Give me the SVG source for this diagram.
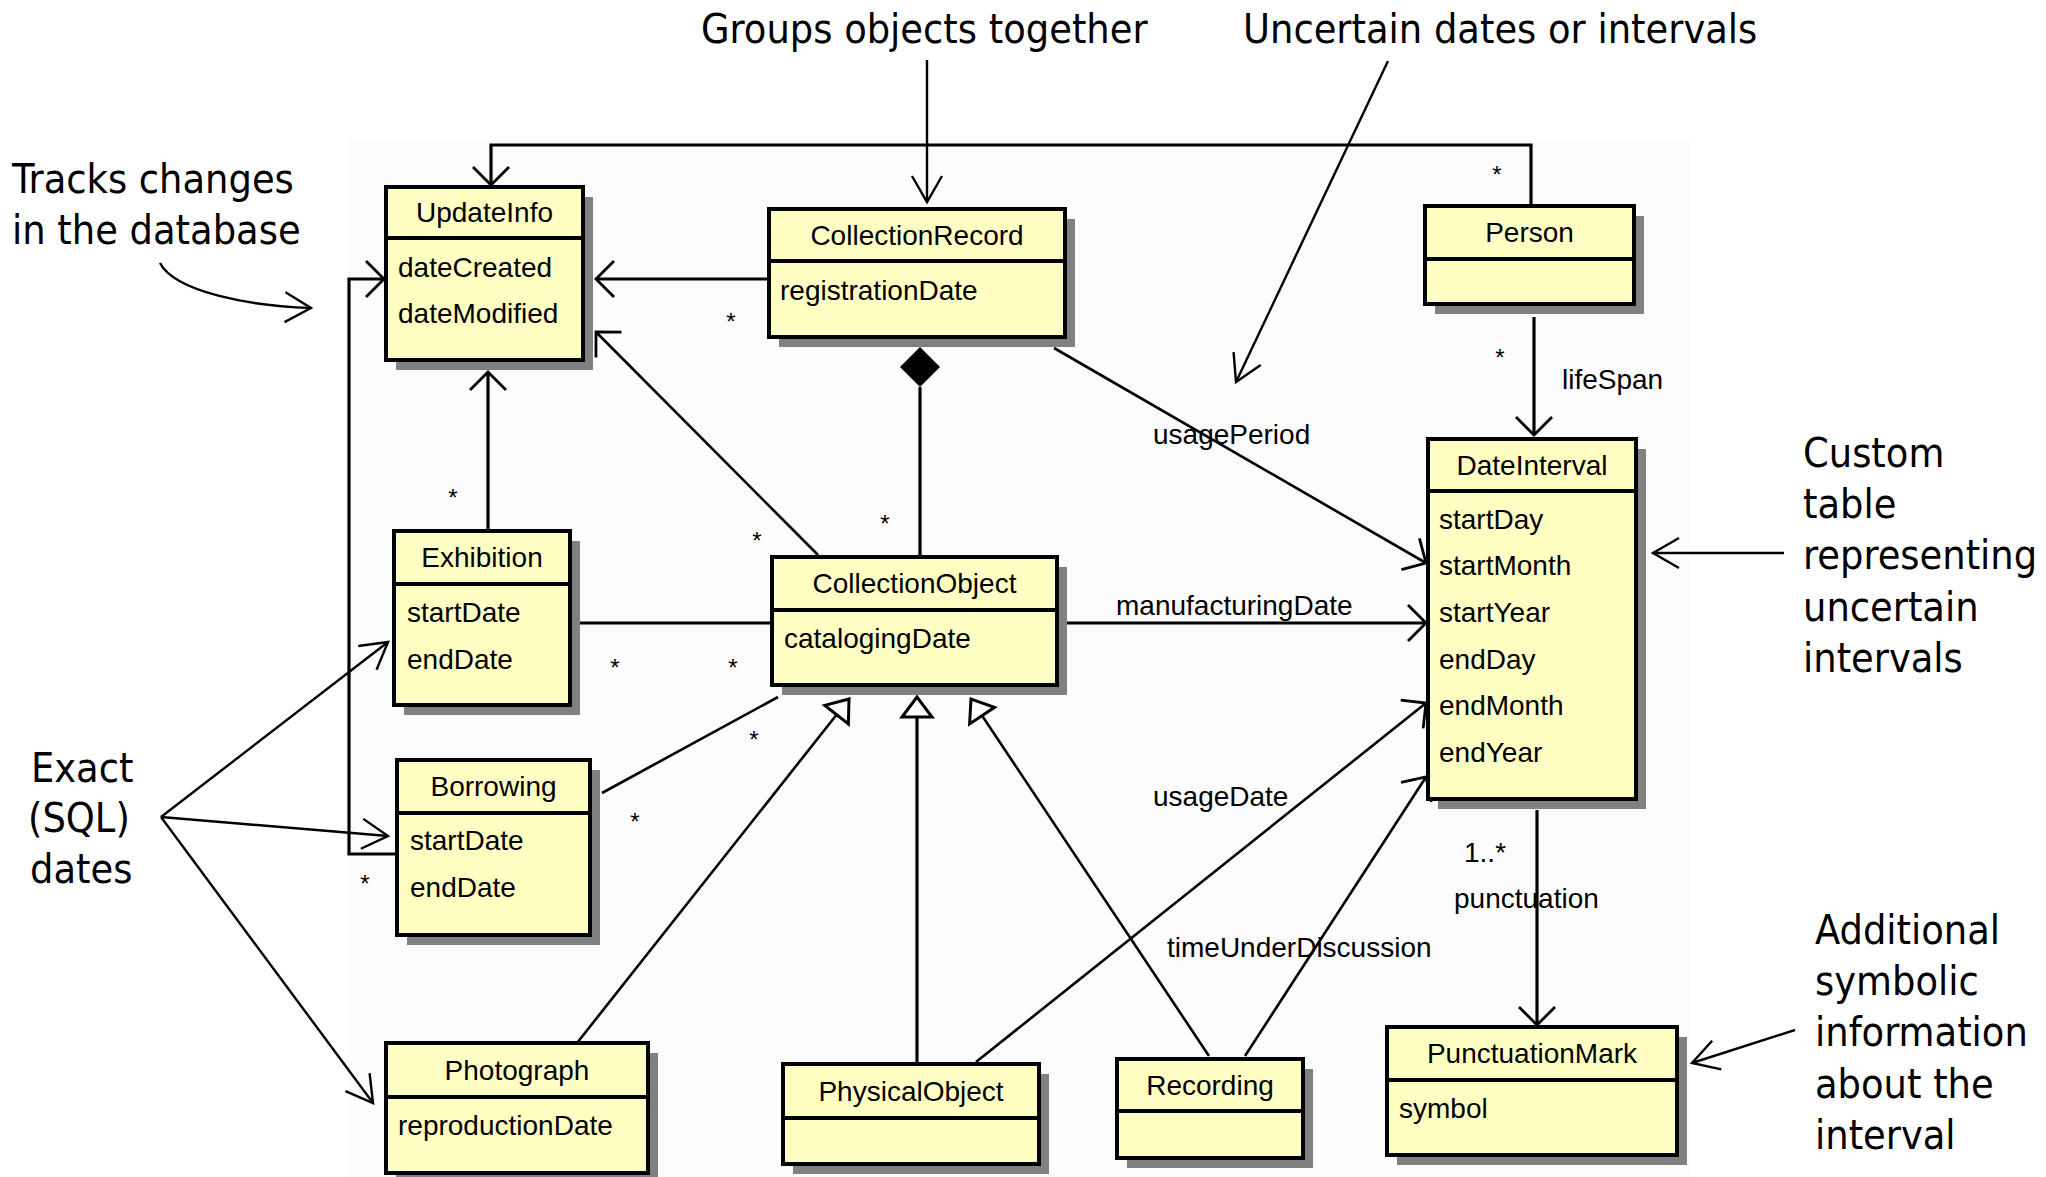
<svg xmlns="http://www.w3.org/2000/svg" width="2046" height="1177" viewBox="0 0 2046 1177">
<style>
.box{fill:#ffffc4;stroke:#000;stroke-width:4}
.sh{fill:#808080}
.dv{stroke:#000;stroke-width:4}
.n{font-family:"Liberation Sans",Arial,sans-serif;font-size:28px;text-anchor:middle;fill:#000}
.a{font-family:"Liberation Sans",Arial,sans-serif;font-size:28px;fill:#000}
.s{font-family:"Liberation Sans",Arial,sans-serif;font-size:24px;text-anchor:middle;fill:#000}
.t{font-family:"DejaVu Sans Condensed","DejaVu Sans",Verdana,sans-serif;font-stretch:condensed;font-size:41px;fill:#000}
.c{fill:none;stroke:#000;stroke-width:3.2}
.c2{fill:none;stroke:#000;stroke-width:2.6}
.an{fill:none;stroke:#000;stroke-width:2.4}
</style>
<defs>
<marker id="open" markerUnits="userSpaceOnUse" viewBox="-22 -22 26 44" markerWidth="26" markerHeight="44" refX="0" refY="0" orient="auto" overflow="visible">
<path d="M-18,-18 L0,0 L-18,18" fill="none" stroke="#000" stroke-width="2.8"/>
</marker>
<marker id="ann" markerUnits="userSpaceOnUse" viewBox="-30 -18 32 36" markerWidth="32" markerHeight="36" refX="0" refY="0" orient="auto" overflow="visible">
<path d="M-26,-15 L0,0 L-26,15" fill="none" stroke="#000" stroke-width="2.4"/>
</marker>
<marker id="gen" markerUnits="userSpaceOnUse" viewBox="-24 -18 26 36" markerWidth="26" markerHeight="36" refX="0" refY="0" orient="auto" overflow="visible">
<path d="M0,0 L-20,-15 L-20,15 Z" fill="#fff" stroke="#000" stroke-width="3"/>
</marker>
</defs>
<rect x="347" y="140" width="1343" height="1037" fill="#fcfcfc"/>

<g id="connectors">
<path class="c" d="M1531,206 V145 H491 V185" marker-end="url(#open)"/>
<path class="c" d="M769,279 H596" marker-end="url(#open)"/>
<path class="c2" d="M818,555 L596,332" marker-end="url(#open)"/>
<path class="c" d="M488,531 V372" marker-end="url(#open)"/>
<path class="c" d="M397,854 H349 V279 H384" marker-end="url(#open)"/>
<path class="c" d="M580,623 H771"/>
<path class="c2" d="M602,793 L778,697"/>
<path d="M920,347 L940,367 L920,387 L900,367 Z" fill="#000"/>
<path class="c" d="M920,387 V557"/>
<path class="c2" d="M1054,348 L1426,563" marker-end="url(#open)"/>
<path class="c" d="M1066,623 H1426" marker-end="url(#open)"/>
<path class="c2" d="M976,1062 L1426,703" marker-end="url(#open)"/>
<path class="c2" d="M1245,1056 L1426,777" marker-end="url(#open)"/>
<path class="c2" d="M577,1043 L849,699" marker-end="url(#gen)"/>
<path class="c" d="M917,1064 V697" marker-end="url(#gen)"/>
<path class="c2" d="M1209,1056 L971,699" marker-end="url(#gen)"/>
<path class="c" d="M1534,317 V435" marker-end="url(#open)"/>
<path class="c" d="M1537,810 V1025" marker-end="url(#open)"/>
<text class="s" x="1497" y="183">*</text>
<text class="s" x="731" y="330">*</text>
<text class="s" x="757" y="549">*</text>
<text class="s" x="453" y="506">*</text>
<text class="s" x="365" y="892">*</text>
<text class="s" x="615" y="676">*</text>
<text class="s" x="733" y="676">*</text>
<text class="s" x="754" y="748">*</text>
<text class="s" x="635" y="830">*</text>
<text class="s" x="885" y="532">*</text>
<text class="s" x="1500" y="366">*</text>
<text class="a" x="1153" y="444">usagePeriod</text>
<text class="a" x="1116" y="615">manufacturingDate</text>
<text class="a" x="1153" y="806">usageDate</text>
<text class="a" x="1167" y="957">timeUnderDiscussion</text>
<text class="a" x="1562" y="389">lifeSpan</text>
<text class="a" x="1464" y="862">1..*</text>
<text class="a" x="1454" y="908">punctuation</text>
</g>

<g id="UpdateInfo">
<rect class="sh" x="396" y="197" width="197" height="173"/>
<rect class="box" x="386" y="187" width="197" height="173"/>
<line class="dv" x1="386" y1="238" x2="583" y2="238"/>
<text class="n" x="484.5" y="222">UpdateInfo</text>
<text class="a" x="398" y="277">dateCreated</text>
<text class="a" x="398" y="323">dateModified</text>
</g>
<g id="CollectionRecord">
<rect class="sh" x="779" y="219" width="296" height="128"/>
<rect class="box" x="769" y="209" width="296" height="128"/>
<line class="dv" x1="769" y1="261" x2="1065" y2="261"/>
<text class="n" x="917" y="245">CollectionRecord</text>
<text class="a" x="780" y="300">registrationDate</text>
</g>
<g id="Person">
<rect class="sh" x="1435" y="216" width="209" height="98"/>
<rect class="box" x="1425" y="206" width="209" height="98"/>
<line class="dv" x1="1425" y1="259" x2="1634" y2="259"/>
<text class="n" x="1529.5" y="242">Person</text>
</g>
<g id="DateInterval">
<rect class="sh" x="1438" y="449" width="208" height="360"/>
<rect class="box" x="1428" y="439" width="208" height="360"/>
<line class="dv" x1="1428" y1="491" x2="1636" y2="491"/>
<text class="n" x="1532" y="475">DateInterval</text>
<text class="a" x="1439" y="529">startDay</text>
<text class="a" x="1439" y="575">startMonth</text>
<text class="a" x="1439" y="622">startYear</text>
<text class="a" x="1439" y="669">endDay</text>
<text class="a" x="1439" y="715">endMonth</text>
<text class="a" x="1439" y="762">endYear</text>
</g>
<g id="Exhibition">
<rect class="sh" x="404" y="541" width="176" height="174"/>
<rect class="box" x="394" y="531" width="176" height="174"/>
<line class="dv" x1="394" y1="584" x2="570" y2="584"/>
<text class="n" x="482" y="567">Exhibition</text>
<text class="a" x="407" y="622">startDate</text>
<text class="a" x="407" y="669">endDate</text>
</g>
<g id="CollectionObject">
<rect class="sh" x="782" y="567" width="285" height="128"/>
<rect class="box" x="772" y="557" width="285" height="128"/>
<line class="dv" x1="772" y1="610" x2="1057" y2="610"/>
<text class="n" x="914.5" y="593">CollectionObject</text>
<text class="a" x="784" y="648">catalogingDate</text>
</g>
<g id="Borrowing">
<rect class="sh" x="407" y="770" width="193" height="175"/>
<rect class="box" x="397" y="760" width="193" height="175"/>
<line class="dv" x1="397" y1="813" x2="590" y2="813"/>
<text class="n" x="493.5" y="796">Borrowing</text>
<text class="a" x="410" y="850">startDate</text>
<text class="a" x="410" y="897">endDate</text>
</g>
<g id="Photograph">
<rect class="sh" x="396" y="1053" width="262" height="130"/>
<rect class="box" x="386" y="1043" width="262" height="130"/>
<line class="dv" x1="386" y1="1097" x2="648" y2="1097"/>
<text class="n" x="517" y="1080">Photograph</text>
<text class="a" x="398" y="1135">reproductionDate</text>
</g>
<g id="PhysicalObject">
<rect class="sh" x="793" y="1074" width="256" height="100"/>
<rect class="box" x="783" y="1064" width="256" height="100"/>
<line class="dv" x1="783" y1="1118" x2="1039" y2="1118"/>
<text class="n" x="911" y="1101">PhysicalObject</text>
</g>
<g id="Recording">
<rect class="sh" x="1127" y="1069" width="186" height="99"/>
<rect class="box" x="1117" y="1059" width="186" height="99"/>
<line class="dv" x1="1117" y1="1111" x2="1303" y2="1111"/>
<text class="n" x="1210" y="1095">Recording</text>
</g>
<g id="PunctuationMark">
<rect class="sh" x="1397" y="1037" width="290" height="128"/>
<rect class="box" x="1387" y="1027" width="290" height="128"/>
<line class="dv" x1="1387" y1="1080" x2="1677" y2="1080"/>
<text class="n" x="1532" y="1063">PunctuationMark</text>
<text class="a" x="1399" y="1118">symbol</text>
</g>

<g id="annotations">
<text class="t" x="701" y="43">Groups objects together</text>
<path class="an" d="M927,60 V202" marker-end="url(#ann)"/>
<text class="t" x="1243" y="43">Uncertain dates or intervals</text>
<path class="an" d="M1388,61 L1236,382" marker-end="url(#ann)"/>
<text class="t" x="12" y="193">Tracks changes</text>
<text class="t" x="12" y="244">in the database</text>
<path class="an" d="M160,263 C175,292 250,306 311,308" marker-end="url(#ann)"/>
<text class="t" x="31" y="782">Exact</text>
<text class="t" x="28" y="832">(SQL)</text>
<text class="t" x="30" y="883">dates</text>
<path class="an" d="M161,817 L388,642" marker-end="url(#ann)"/>
<path class="an" d="M161,817 L388,836" marker-end="url(#ann)"/>
<path class="an" d="M161,817 L373,1103" marker-end="url(#ann)"/>
<text class="t" x="1803" y="467">Custom</text>
<text class="t" x="1803" y="518">table</text>
<text class="t" x="1803" y="569">representing</text>
<text class="t" x="1803" y="621">uncertain</text>
<text class="t" x="1803" y="672">intervals</text>
<path class="an" d="M1784,553 H1653" marker-end="url(#ann)"/>
<text class="t" x="1815" y="944">Additional</text>
<text class="t" x="1815" y="995">symbolic</text>
<text class="t" x="1815" y="1046">information</text>
<text class="t" x="1815" y="1098">about the</text>
<text class="t" x="1815" y="1149">interval</text>
<path class="an" d="M1795,1030 L1692,1063" marker-end="url(#ann)"/>
</g>
</svg>
